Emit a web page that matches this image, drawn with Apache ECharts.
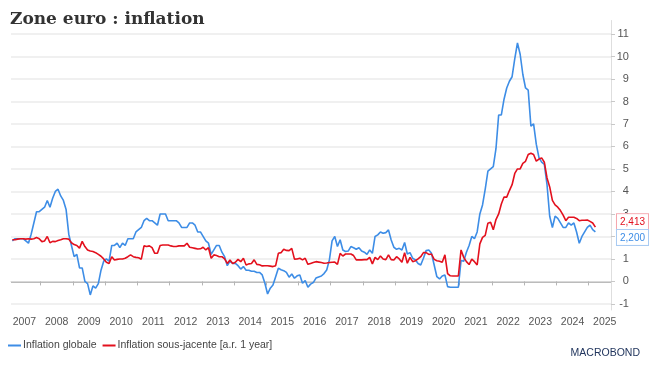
<!DOCTYPE html>
<html><head><meta charset="utf-8">
<script src="https://cdn.jsdelivr.net/npm/echarts@6/dist/echarts.min.js"></script>
<style>html,body{margin:0;padding:0;background:#fff}#c{width:652px;height:372px}</style>
</head><body><div id="c"></div>
<script>
// Monthly data, Feb 2007 .. Mar 2025 (plotted mid-month)
const startYear = 2007, startMonth = 2;
const headline = [].concat(
  [1.8, 1.9, 1.9, 1.9, 1.9, 1.8, 1.7, 2.1, 2.6, 3.1, 3.1],
  [3.2, 3.3, 3.6, 3.3, 3.7, 4.0, 4.1, 3.8, 3.6, 3.2, 2.1, 1.6],
  [1.1, 1.2, 0.6, 0.6, 0.0, -0.1, -0.6, -0.2, -0.3, -0.1, 0.5, 0.9],
  [1.0, 0.9, 1.6, 1.6, 1.7, 1.5, 1.7, 1.6, 1.9, 1.9, 1.9, 2.2],
  [2.3, 2.4, 2.7, 2.8, 2.7, 2.7, 2.6, 2.5, 3.0, 3.0, 3.0, 2.7],
  [2.7, 2.7, 2.7, 2.6, 2.4, 2.4, 2.4, 2.6, 2.6, 2.5, 2.2, 2.2],
  [2.0, 1.8, 1.7, 1.2, 1.4, 1.6, 1.6, 1.3, 1.1, 0.7, 0.9, 0.8],
  [0.8, 0.7, 0.55, 0.66, 0.5, 0.5, 0.45, 0.45, 0.4, 0.4, 0.29, -0.08],
  [-0.56, -0.3, -0.16, 0.21, 0.59, 0.52, 0.48, 0.4, 0.19, 0.33, 0.14, 0.25],
  [0.29, -0.08, 0.04, -0.26, -0.12, -0.05, 0.15, 0.2, 0.24, 0.35, 0.51, 0.96],
  [1.8, 2.0, 1.55, 1.85, 1.4, 1.33, 1.35, 1.55, 1.5, 1.43, 1.5, 1.35],
  [1.3, 1.2, 1.4, 1.25, 2.0, 2.07, 2.2, 2.14, 2.17, 2.29, 1.84, 1.52],
  [1.43, 1.47, 1.4, 1.73, 1.22, 1.28, 1.03, 0.96, 0.8, 0.73, 1.03, 1.37],
  [1.4, 1.25, 0.73, 0.21, 0.11, 0.24, 0.29, -0.23, -0.26, -0.26, -0.26, -0.26],
  [0.93, 0.9, 1.3, 1.6, 2.0, 1.9, 2.2, 3.0, 3.4, 4.1, 4.9, 5.0],
  [5.1, 5.9, 7.4, 7.4, 8.1, 8.6, 8.9, 9.1, 9.9, 10.6, 10.1, 9.2],
  [8.6, 8.5, 6.9, 7.0, 6.1, 5.5, 5.3, 5.2, 4.3, 2.9, 2.4, 2.9],
  [2.8, 2.6, 2.4, 2.4, 2.6, 2.5, 2.6, 2.2, 1.7, 2.0, 2.2, 2.4],
  [2.5, 2.3, 2.2]
);
const core = [].concat(
  [1.85, 1.85, 1.88, 1.9, 1.9, 1.88, 1.9, 1.88, 1.9, 1.95, 1.9],
  [1.77, 1.8, 2.0, 1.72, 1.78, 1.77, 1.82, 1.85, 1.9, 1.9, 1.88, 1.72],
  [1.64, 1.6, 1.48, 1.78, 1.55, 1.4, 1.35, 1.33, 1.28, 1.2, 1.12, 1.0],
  [0.85, 0.8, 1.1, 0.95, 0.98, 1.0, 1.0, 1.03, 1.1, 1.18, 1.1, 1.07],
  [1.05, 0.99, 1.58, 1.55, 1.58, 1.5, 1.25, 1.25, 1.6, 1.62, 1.62, 1.62],
  [1.58, 1.55, 1.55, 1.58, 1.58, 1.58, 1.7, 1.52, 1.5, 1.47, 1.44, 1.45],
  [1.52, 1.4, 1.5, 1.03, 1.18, 1.15, 1.1, 1.1, 1.0, 0.8, 0.95, 0.8],
  [0.85, 0.98, 0.88, 1.03, 0.73, 0.78, 0.8, 0.96, 0.76, 0.74, 0.69, 0.7],
  [0.7, 0.68, 0.66, 0.7, 1.25, 1.28, 1.43, 1.38, 1.37, 1.47, 0.99, 1.0],
  [1.03, 0.96, 1.03, 0.76, 0.8, 0.84, 0.88, 0.86, 0.84, 0.81, 0.82, 0.84],
  [0.85, 0.86, 0.76, 1.25, 1.13, 1.22, 1.22, 1.22, 1.15, 0.96, 0.96, 0.96],
  [0.97, 0.97, 1.07, 0.78, 1.07, 0.97, 1.13, 1.0, 0.97, 1.18, 0.97, 0.95],
  [1.1, 1.0, 0.85, 1.28, 0.81, 1.07, 0.88, 0.92, 1.0, 1.1, 1.28, 1.28],
  [1.2, 1.22, 0.98, 0.92, 0.9, 0.85, 1.18, 0.35, 0.25, 0.24, 0.24, 0.24],
  [1.4, 1.07, 0.88, 0.75, 0.99, 0.88, 0.73, 1.67, 1.96, 2.05, 2.59, 2.63],
  [2.3, 2.75, 3.0, 3.44, 3.75, 3.75, 4.04, 4.3, 4.8, 5.0, 5.0, 5.25],
  [5.34, 5.64, 5.7, 5.64, 5.35, 5.44, 5.49, 5.3, 4.6, 4.2, 3.6, 3.4],
  [3.3, 3.15, 2.95, 2.7, 2.85, 2.85, 2.85, 2.8, 2.7, 2.72, 2.72, 2.73],
  [2.67, 2.6, 2.413]
);
const seriesNames = ['Inflation globale', 'Inflation sous-jacente [a.r. 1 year]'];
const yTicks = [-1, 0, 1, 2, 3, 4, 5, 6, 7, 8, 9, 10, 11];
const xTickYears = [2008, 2009, 2010, 2011, 2012, 2013, 2014, 2015, 2016, 2017, 2018, 2019, 2020, 2021, 2022, 2023, 2024, 2025];
const xLabelYears = [2007, 2008, 2009, 2010, 2011, 2012, 2013, 2014, 2015, 2016, 2017, 2018, 2019, 2020, 2021, 2022, 2023, 2024, 2025];

const BLUE = '#3d8de6', RED = '#e3101d';
const FONT = 'Liberation Sans';
const xs = headline.map((_, i) => startYear + (startMonth - 1 + i + 0.5) / 12);
const xMin = startYear + (startMonth - 1) / 12;
const xMax = 2025.692;
const yMin = -1.27, yMax = 11.6;
const lastHead = headline[headline.length - 1];
const lastCore = core[core.length - 1];
const fmt = v => v.toFixed(3).replace('.', ',');
const splitColors = yTicks.map(v => v === 0 ? '#a5a5a5' : '#ebebeb');

function tagAxis(value, color, border, up) {
  return {
    type: 'value', position: 'right', min: yMin, max: yMax,
    axisLine: { show: false }, axisTick: { show: false }, splitLine: { show: false },
    axisLabel: {
      customValues: [value], margin: 6, align: 'left', hideOverlap: false,
      formatter: v => up ? '{t|' + fmt(v) + '}\n{g|}' : '{g|}\n{t|' + fmt(v) + '}',
      rich: {
        t: { color: color, fontSize: 10, fontFamily: FONT, borderColor: border, borderWidth: 1,
             backgroundColor: '#fff', padding: [3, 3, 2, 3] },
        g: { height: 11, lineHeight: 11 }
      }
    }
  };
}

const chart = echarts.init(document.getElementById('c'));
chart.setOption({
  animation: false,
  backgroundColor: '#fff',
  title: [
    { text: 'Zone euro : inflation', left: 5, top: 6,
      textStyle: { fontFamily: 'DejaVu Serif', fontWeight: 'bold', fontSize: 17, color: '#333' } },
    { text: 'MACROBOND', right: 7, bottom: 8,
      textStyle: { fontFamily: FONT, fontWeight: 'normal', fontSize: 10.5, color: '#22365e' } }
  ],
  legend: {
    left: 3, top: 335, icon: 'rect', itemWidth: 13, itemHeight: 2, itemGap: 6,
    textStyle: { fontFamily: FONT, fontSize: 10.5, color: '#444', padding: [0, 0, 0, -3] },
    data: seriesNames
  },
  grid: { left: 11, right: 39, top: 20.5, bottom: 62 },
  xAxis: {
    type: 'value', min: xMin, max: xMax,
    axisLine: { show: true, lineStyle: { color: '#d9d9d9', width: 1 } },
    axisTick: { show: true, customValues: xTickYears, length: 4, lineStyle: { color: '#b5b5b5' } },
    axisLabel: { customValues: xLabelYears.map(y => y + 0.5), formatter: v => String(Math.floor(v)),
      margin: 7, color: '#555', fontSize: 10.5, fontFamily: FONT },
    splitLine: { show: false }
  },
  yAxis: [
    { type: 'value', position: 'right', min: yMin, max: yMax,
      axisLine: { show: true, lineStyle: { color: '#dedede' } },
      axisTick: { show: true, customValues: yTicks, length: 4, lineStyle: { color: '#c8c8c8' } },
      axisLabel: { customValues: yTicks, margin: 18, align: 'right', color: '#555', fontSize: 11, fontFamily: FONT },
      splitLine: { show: true, lineStyle: { color: splitColors, width: 1.5 } } },
    tagAxis(lastCore, RED, '#f5a7ae', true),
    tagAxis(lastHead, BLUE, '#a9cbf2', false)
  ],
  series: [
    { name: seriesNames[0], type: 'line', data: xs.map((x, i) => [x, headline[i]]),
      showSymbol: false, color: BLUE, lineStyle: { color: BLUE, width: 1.6 } },
    { name: seriesNames[1], type: 'line', data: xs.map((x, i) => [x, core[i]]),
      showSymbol: false, color: RED, lineStyle: { color: RED, width: 1.6 } }
  ]
});
</script></body></html>
